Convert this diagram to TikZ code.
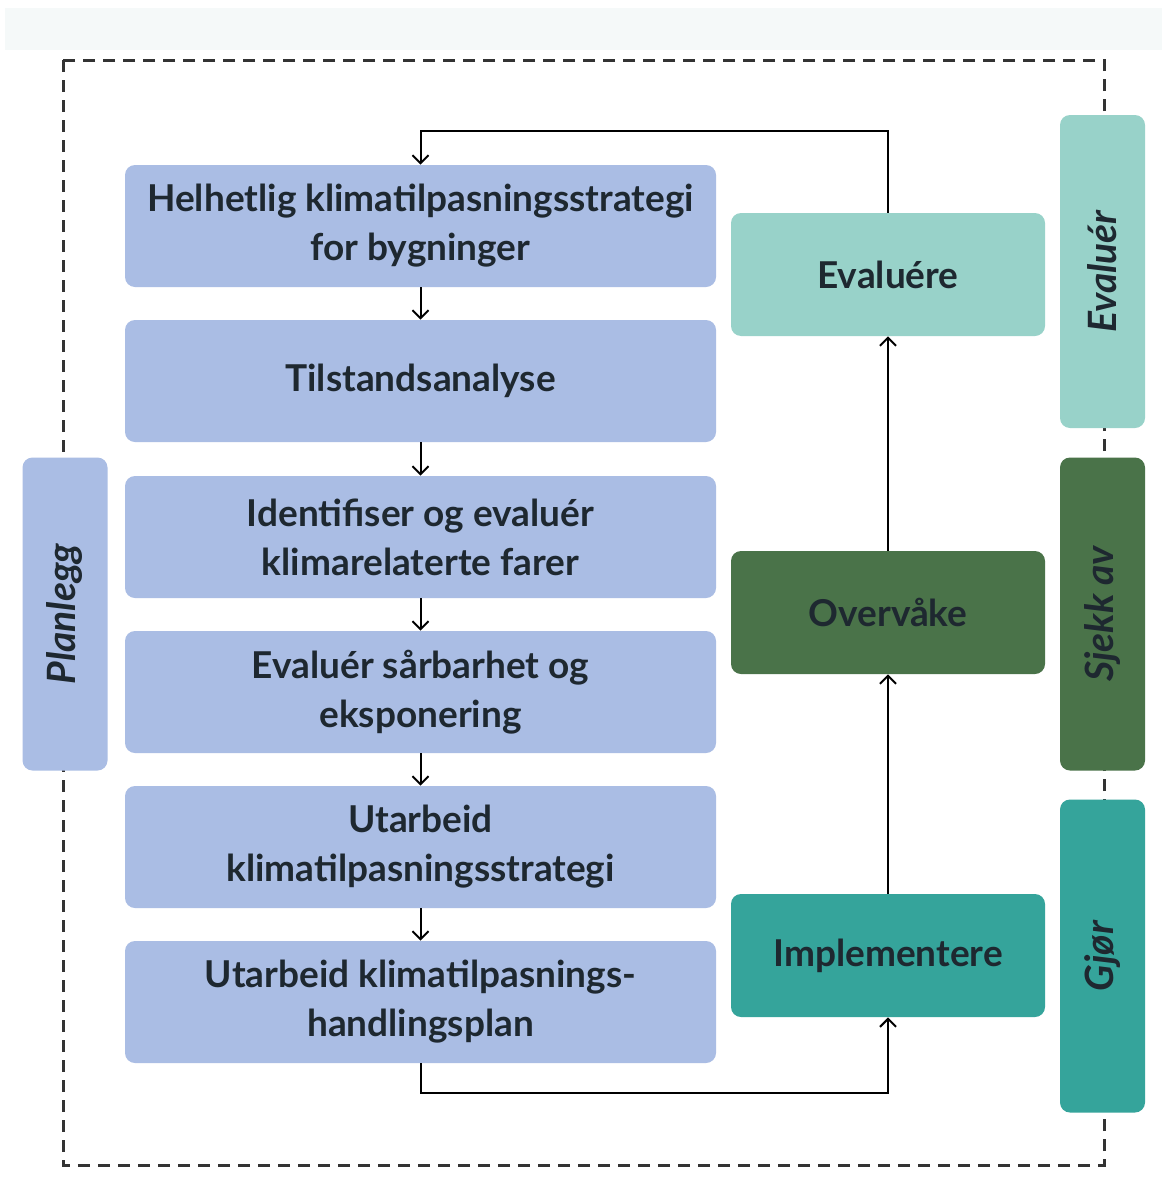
\documentclass[tikz,border=0pt]{standalone}
\usepackage{fontspec}
\setmainfont{Lato}
\usetikzlibrary{arrows.meta}
\definecolor{planblue}{HTML}{AABDE4}
\definecolor{evalteal}{HTML}{98D2C9}
\definecolor{checkgreen}{HTML}{4A7349}
\definecolor{doteal}{HTML}{35A49B}
\definecolor{txt}{HTML}{1E2830}
\definecolor{bandbg}{HTML}{F5F9F9}
\tikzset{
  stepbox/.style={rectangle, rounded corners=5pt, fill=planblue, draw=none,
    minimum width=295.5pt, minimum height=61pt, align=center, text=txt,
    font=\fontsize{18.5}{24.5}\selectfont\bfseries},
  actbox/.style={rectangle, rounded corners=5pt, draw=none,
    minimum width=157pt, minimum height=61.5pt, align=center, text=txt,
    font=\fontsize{18.5}{24.5}\selectfont\bfseries},
  sidebox/.style={rectangle, rounded corners=5pt, draw=none,
    minimum width=42.5pt, minimum height=156.5pt, text=txt,
    font=\fontsize{19.5}{22}\selectfont\bfseries\itshape},
  flow/.style={line width=1pt, draw=black, -{Straight Barb[length=4pt,width=8pt]}},
  frame/.style={line width=1.5pt, draw=black!80, dash pattern=on 6pt off 4pt}
}
\begin{document}
\begin{tikzpicture}[x=0.5pt,y=-0.5pt]
\useasboundingbox (0,0) rectangle (1162,1178);
\fill[white] (0,0) rectangle (1162,1178);
\fill[bandbg] (5,8) rectangle (1162,50);
% dashed frame
\draw[frame] (63,60) rectangle (1104,1165);
% left steps
\node[stepbox] (s1) at (420.5,226) {Helhetlig klimatilpasningsstrategi\\for bygninger};
\node[stepbox] (s2) at (420.5,381) {Tilstandsanalyse};
\node[stepbox] (s3) at (420.5,537) {Identifiser og evaluér\\klimarelaterte farer};
\node[stepbox] (s4) at (420.5,692) {Evaluér sårbarhet og\\eksponering};
\node[stepbox] (s5) at (420.5,847) {Utarbeid\\klimatilpasningsstrategi};
\node[stepbox] (s6) at (420.5,1002) {Utarbeid klimatilpasnings-\\handlingsplan};
% right actions
\node[actbox, fill=evalteal] (ev) at (888,274.5) {Evaluére};
\node[actbox, fill=checkgreen] (ov) at (888,612.5) {Overvåke};
\node[actbox, fill=doteal] (im) at (888,955.5) {Implementere};
% side labels
\node[sidebox, fill=evalteal] (le) at (1102.5,271.5) {\rotatebox{90}{Evaluér}};
\node[sidebox, fill=checkgreen] (ls) at (1102.5,614) {\rotatebox{90}{Sjekk av}};
\node[sidebox, fill=doteal] (lg) at (1102.5,956) {\rotatebox{90}{Gjør}};
\node[sidebox, fill=planblue] (lp) at (65,614) {\rotatebox{90}{Planlegg}};
% flow arrows
\draw[flow] (s1.south) -- (s2.north);
\draw[flow] (s2.south) -- (s3.north);
\draw[flow] (s3.south) -- (s4.north);
\draw[flow] (s4.south) -- (s5.north);
\draw[flow] (s5.south) -- (s6.north);
\coordinate (bl) at (420.5,1093);
\coordinate (br) at (888,1093);
\draw[flow] (s6.south) -- (bl) -- (br) -- (im.south);
\draw[flow] (im.north) -- (ov.south);
\draw[flow] (ov.north) -- (ev.south);
\coordinate (tr) at (888,131);
\coordinate (tl) at (420.5,131);
\draw[flow] (ev.north) -- (tr) -- (tl) -- (s1.north);
\end{tikzpicture}
\end{document}
